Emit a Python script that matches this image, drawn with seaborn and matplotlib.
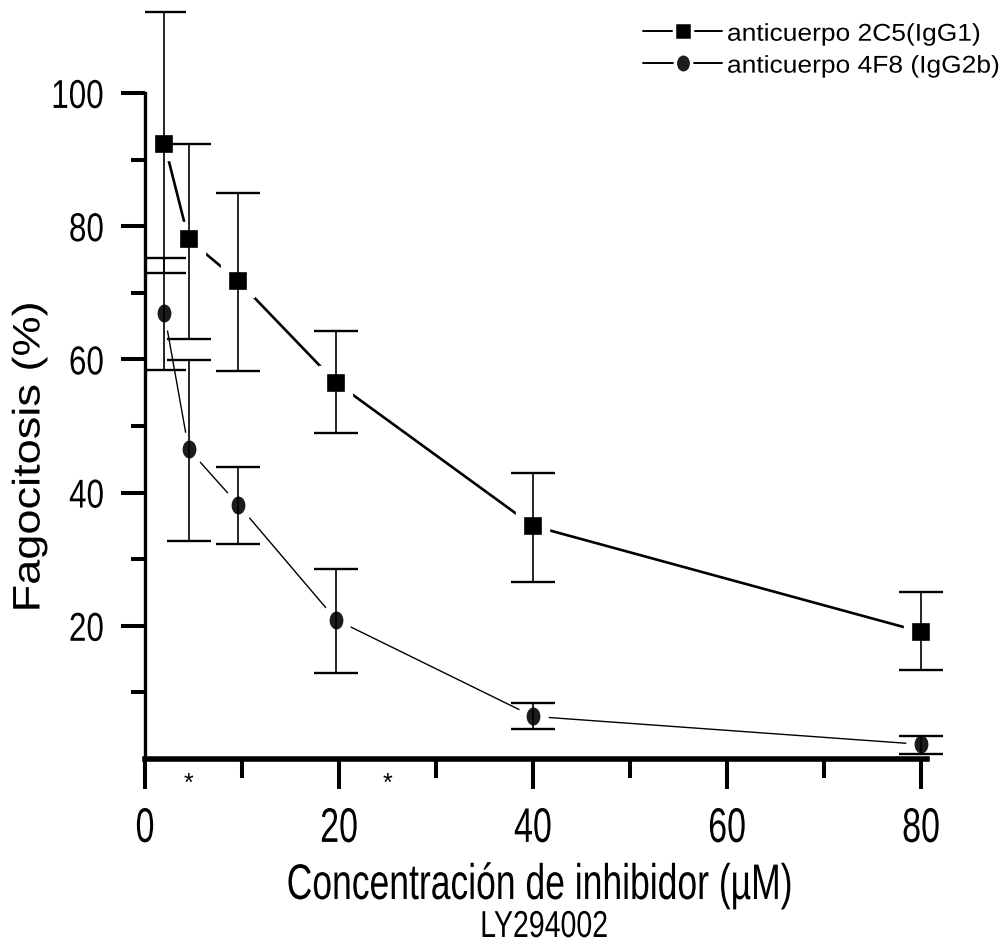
import numpy as np
import pandas as pd
import matplotlib
matplotlib.use("Agg")
import matplotlib.pyplot as plt
from matplotlib.lines import Line2D
from matplotlib.markers import MarkerStyle
from matplotlib.ticker import FixedLocator
from matplotlib.patheffects import AbstractPathEffect
from matplotlib.transforms import Affine2D
import seaborn as sns

# ---------------- data ----------------
conc = [2.0, 4.5, 9.6, 19.7, 40.0, 80.0]

igg1_mean = [92.4, 78.0, 71.8, 56.5, 35.0, 19.1]
igg1_upper = [112.2, 92.4, 85.0, 64.3, 43.0, 25.1]
igg1_lower = [72.9, 63.0, 58.3, 49.0, 26.6, 13.3]

igg2b_mean = [66.9, 46.5, 38.2, 20.9, 6.4, 2.2]
igg2b_upper = [75.2, 59.9, 43.9, 28.5, 8.4, 3.5]
igg2b_lower = [58.4, 32.7, 32.3, 12.9, 4.5, 0.8]

series_names = ["anticuerpo 2C5(IgG1)", "anticuerpo 4F8 (IgG2b)"]
x_ticks = [0, 20, 40, 60, 80]
x_minor = [10, 30, 50, 70]
y_ticks = [20, 40, 60, 80, 100]
y_minor = [10, 30, 50, 70, 90]
star_x = [4.5, 25.0]


# ---------------- condensed-text path effect ----------------
class Squeeze(AbstractPathEffect):
    """Draw text glyphs narrower (sx) / shorter (sy) around an anchor."""

    def __init__(self, sx=1.0, sy=1.0, anchor="center"):
        super().__init__()
        self.sx, self.sy, self.anchor = sx, sy, anchor

    def draw_path(self, renderer, gc, tpath, affine, rgbFace=None):
        ext = tpath.get_extents()
        if self.anchor == "right":
            cx = ext.x1
        elif self.anchor == "left":
            cx = ext.x0
        else:
            cx = 0.5 * (ext.x0 + ext.x1)
        t = Affine2D().translate(-cx, 0).scale(self.sx, self.sy).translate(cx, 0)
        renderer.draw_path(gc, tpath, t + affine, rgbFace)


sns.set_style("ticks", {"text.color": "black", "xtick.color": "black",
                        "ytick.color": "black", "axes.edgecolor": "black",
                        "axes.labelcolor": "black"})
plt.rcParams["font.family"] = ["Liberation Sans", "DejaVu Sans"]

# ---------------- figure ----------------
fig = plt.figure(figsize=(10.03, 9.44), dpi=100)
ax = fig.add_axes([145 / 1003, 185 / 944, 810 / 1003, 756 / 944])
ax.set_facecolor("white")

df1 = pd.DataFrame({"x": conc, "y": igg1_mean})
df2 = pd.DataFrame({"x": conc, "y": igg2b_mean})

ellipse = MarkerStyle("o", transform=Affine2D().scale(0.84, 1.0))

sns.lineplot(data=df1, x="x", y="y", ax=ax, color="black", linewidth=1.9,
             marker="s", markersize=18.5, markerfacecolor="black",
             markeredgecolor="white", markeredgewidth=6, errorbar=None, zorder=2.2)
sns.lineplot(data=df2, x="x", y="y", ax=ax, color="black", linewidth=1.0,
             marker=ellipse, markersize=19, markerfacecolor="#1c1c1c",
             markeredgecolor="white", markeredgewidth=6, errorbar=None, zorder=2.2)

for m, up, lo in [(igg1_mean, igg1_upper, igg1_lower), (igg2b_mean, igg2b_upper, igg2b_lower)]:
    m = np.array(m); up = np.array(up); lo = np.array(lo)
    ax.errorbar(conc, m, yerr=[m - lo, up - m], fmt="none", ecolor="black",
                elinewidth=1.2, capsize=16, capthick=1.7, zorder=3)

ax.set_xlim(0, 83.5)
ax.set_ylim(0, 113.5)
sns.despine(ax=ax)
ax.spines["left"].set_bounds(0, 100)
ax.spines["bottom"].set_bounds(0, 80.6)
ax.spines["left"].set_linewidth(2.4)
ax.spines["bottom"].set_linewidth(4.0)
ax.spines["left"].set_zorder(4)
ax.spines["bottom"].set_zorder(4)

ax.xaxis.set_major_locator(FixedLocator(x_ticks))
ax.xaxis.set_minor_locator(FixedLocator(x_minor))
ax.yaxis.set_major_locator(FixedLocator(y_ticks))
ax.yaxis.set_minor_locator(FixedLocator(y_minor))
ax.set_xticklabels([str(t) for t in x_ticks], fontsize=35)
ax.set_yticklabels([str(t) for t in y_ticks], fontsize=29)
ax.tick_params(axis="x", which="major", length=21.5, width=2.9, pad=13, direction="out")
ax.tick_params(axis="x", which="minor", length=13.5, width=2.9, direction="out")
ax.tick_params(axis="y", which="major", length=17.3, width=2.9, pad=12, direction="out")
ax.tick_params(axis="y", which="minor", length=10, width=2.9, direction="out")
for lab in ax.get_xticklabels():
    lab.set_path_effects([Squeeze(0.70, 1.0, "center")])
for lab in ax.get_yticklabels():
    lab.set_path_effects([Squeeze(0.78, 1.0, "right")])
ax.set_xlabel("")
ax.set_ylabel("")

# asterisks under the axis
for sx in star_x:
    ax.annotate("*", xy=(sx, 0), xycoords=("data", "axes fraction"),
                xytext=(0, -25), textcoords="offset pixels",
                ha="center", va="center", fontsize=18, color="black")

# axis titles
fig.text(28 / 1003, 1 - 457 / 944, "Fagocitosis (%)", rotation=90,
         ha="center", va="center", fontsize=32.5,
         path_effects=[Squeeze(1.0, 0.85, "center")])
fig.text(540 / 1003, 1 - 899 / 944, "Concentración de inhibidor (µM)",
         ha="center", va="baseline", fontsize=36,
         path_effects=[Squeeze(0.71, 1.0, "center")])
fig.text(544 / 1003, 1 - 937 / 944, "LY294002", ha="center", va="baseline",
         fontsize=27, path_effects=[Squeeze(0.76, 1.0, "center")])

# legend
handles = [
    Line2D([], [], color="black", linewidth=1.4, marker="s", markersize=13,
           markerfacecolor="black", markeredgecolor="white", markeredgewidth=2.5),
    Line2D([], [], color="black", linewidth=1.4, marker=ellipse, markersize=14,
           markerfacecolor="#1c1c1c", markeredgecolor="white", markeredgewidth=2.5),
]
leg = fig.legend(handles, series_names, loc="upper right",
                 bbox_to_anchor=(0.997, 0.977), frameon=False, fontsize=19,
                 handlelength=3.0, handletextpad=0.18, labelspacing=0.3,
                 borderaxespad=0, borderpad=0)
for t in leg.get_texts():
    t.set_path_effects([Squeeze(1.0, 0.92, "center")])

fig.savefig("out.png", dpi=100, facecolor="white")
